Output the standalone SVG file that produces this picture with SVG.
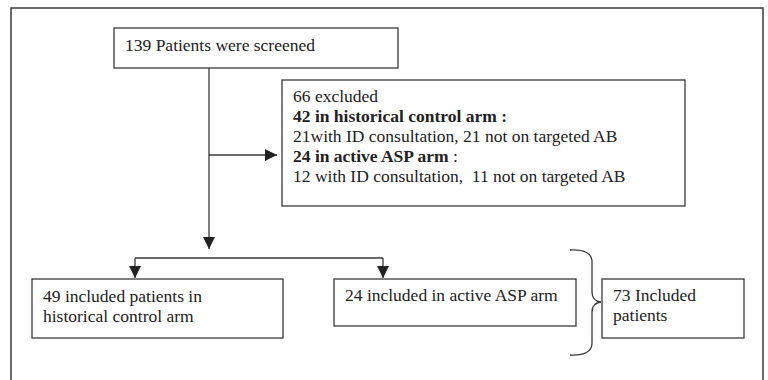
<svg xmlns="http://www.w3.org/2000/svg" width="768" height="380" viewBox="0 0 768 380">
  <defs>
    <style>
      .box { fill: #ffffff; stroke: #3a3a3a; stroke-width: 1.3; }
      .frame { fill: none; stroke: #3a3a3a; stroke-width: 1.5; }
      .line { fill: none; stroke: #3a3a3a; stroke-width: 1.3; }
      text { font-family: 'Liberation Serif', 'DejaVu Serif', serif; font-size: 17.5px; fill: #222222; }
      .bold { font-weight: bold; }
    </style>
    <marker id="arrow" viewBox="0 0 12 12" refX="12" refY="6" markerWidth="12" markerHeight="12" markerUnits="userSpaceOnUse" orient="auto">
      <path d="M0,0 L12,6 L0,12 Z" fill="#222222"/>
    </marker>
  </defs>
  <rect width="768" height="380" fill="#ffffff"/>

  <!-- outer frame (open at the bottom edge) -->
  <path class="frame" d="M11,385 L11,8 L763,8 L763,385"/>

  <!-- connectors -->
  <g id="connectors">
    <path class="line" d="M209,68 L209,249" marker-end="url(#arrow)"/>
    <path class="line" d="M209,155 L277,155" marker-end="url(#arrow)"/>
    <path class="line" d="M135,258 L383,258"/>
    <path class="line" d="M135,258 L135,278" marker-end="url(#arrow)"/>
    <path class="line" d="M383,258 L383,278" marker-end="url(#arrow)"/>
    <!-- brace grouping both arms -->
    <path class="line" d="M570,250 Q592,249 592,262 L592,292 Q592,301 601,302 Q592,303 592,312 L592,343 Q592,356 570,355"/>
  </g>

  <g id="screened">
    <rect class="box" x="114" y="28" width="284" height="40"/>
    <text x="125" y="51" font-family="Liberation Serif, serif">139 Patients were screened</text>
  </g>

  <g id="excluded" font-family="Liberation Serif, serif">
    <rect class="box" x="282" y="80" width="403" height="126"/>
    <text x="293" y="102">66 excluded</text>
    <text class="bold" x="293" y="122">42 in historical control arm :</text>
    <text x="293" y="142">21with ID consultation, 21 not on targeted AB</text>
    <text x="293" y="162"><tspan class="bold">24 in active ASP arm</tspan> :</text>
    <text x="293" y="182" xml:space="preserve">12 with ID consultation,  11 not on targeted AB</text>
  </g>

  <g id="historical">
    <rect class="box" x="32" y="279" width="251" height="59"/>
    <text x="43" y="302">49 included patients in</text>
    <text x="43" y="322">historical control arm</text>
  </g>

  <g id="active">
    <rect class="box" x="334" y="279" width="242" height="47"/>
    <text x="345" y="301">24 included in active ASP arm</text>
  </g>

  <g id="total">
    <rect class="box" x="602" y="279" width="142" height="59"/>
    <text x="613" y="301">73 Included</text>
    <text x="613" y="321">patients</text>
  </g>
</svg>
